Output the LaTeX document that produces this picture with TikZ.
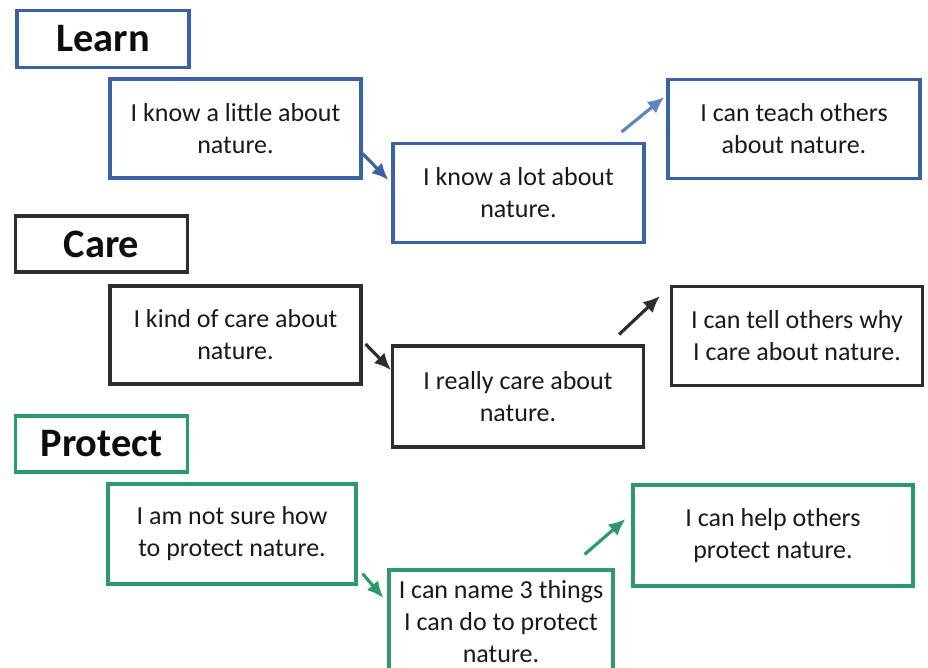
\documentclass[tikz,border=0pt]{standalone}
\usepackage{fontspec}
\setmainfont{Carlito}
\usetikzlibrary{positioning,calc,arrows.meta}
\definecolor{LearnBlue}{HTML}{3A62A7}
\definecolor{LightBlue}{HTML}{5A86C6}
\definecolor{CareGray}{HTML}{2E2E2E}
\definecolor{ProtectGreen}{HTML}{2A9A68}
\tikzset{
  head/.style={draw, line width=1.8pt, minimum width=3.44cm, minimum height=1.14cm,
    font=\fontsize{23}{25}\selectfont\bfseries, text=black!95},
  stepbox/.style={draw, line width=1.8pt, minimum width=5.02cm, minimum height=1.98cm,
    align=center, font=\fontsize{14.8}{18.2}\selectfont, text=black!90},
  go/.style={line width=1.8pt, -{Latex[length=9.5pt,width=8.5pt]}}
}

\begin{document}
\begin{tikzpicture}[x=0.02cm, y=-0.02cm]
  \useasboundingbox (0,0) rectangle (928,667);
  % Learn
  \node[head, draw=LearnBlue] (Learn) at (103,39) {Learn};
  \node[stepbox, draw=LearnBlue] (KnowLittle) at (235.5,128.5) {I know a little about\\nature.};
  \node[stepbox, draw=LearnBlue] (KnowLot) at (518.5,193) {I know a lot about\\nature.};
  \node[stepbox, draw=LearnBlue, minimum width=5.04cm] (TeachOthers) at (794,129) {I can teach others\\about nature.};
  \draw[go, LearnBlue] ($(KnowLittle.south east)+(0,-26)$) -- ($(KnowLot.west)+(-3,-13)$);
  \draw[go, LightBlue] ($(KnowLot.north east)+(-24,-10)$) -- ($(TeachOthers.west)+(-2,-32)$);
  % Care
  \node[head, draw=CareGray, minimum height=1.12cm] (Care) at (101.5,244) {Care};
  \node[stepbox, draw=CareGray, minimum height=1.96cm] (KindCare) at (235.5,335) {I kind of care about\\nature.};
  \node[stepbox, draw=CareGray, minimum height=2.02cm] (ReallyCare) at (518,396.5) {I really care about\\nature.};
  \node[stepbox, draw=CareGray] (TellOthers) at (797,336) {I can tell others why\\I care about nature.};
  \draw[go, CareGray] ($(KindCare.east)+(3,9)$) -- ($(ReallyCare.west)+(0,-26.5)$);
  \draw[go, CareGray] ($(ReallyCare.north east)+(-26,-10)$) -- ($(TellOthers.west)+(-10,-40)$);
  % Protect
  \node[head, draw=ProtectGreen, minimum height=1.12cm] (Protect) at (101.5,444) {Protect};
  \node[stepbox, draw=ProtectGreen, minimum width=4.96cm, minimum height=2cm] (NotSure) at (232,534) {I am not sure how\\to protect nature.};
  \node[stepbox, draw=ProtectGreen, minimum width=4.48cm, minimum height=2.08cm] (NameThree) at (501,622) {I can name 3 things\\I can do to protect\\nature.};
  \node[stepbox, draw=ProtectGreen, minimum width=5.6cm, minimum height=2.02cm] (HelpOthers) at (773,535.5) {I can help others\\protect nature.};
  \draw[go, ProtectGreen] ($(NotSure.south east)+(5,-12)$) -- ($(NameThree.west)+(-4,-24)$);
  \draw[go, ProtectGreen] ($(NameThree.north east)+(-30,-14)$) -- ($(HelpOthers.west)+(-6,-16.5)$);
\end{tikzpicture}
\end{document}
